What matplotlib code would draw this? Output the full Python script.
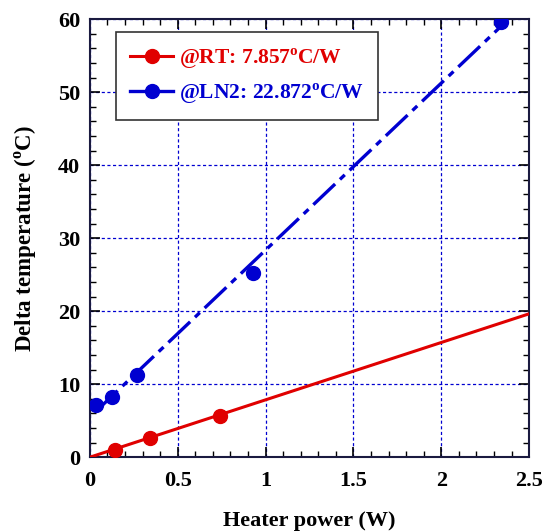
import matplotlib
matplotlib.use("Agg")
import matplotlib.pyplot as plt
from matplotlib.ticker import MultipleLocator
import numpy as np

plt.rcParams['font.family'] = 'Liberation Serif'
plt.rcParams['font.weight'] = 'bold'
plt.rcParams['axes.labelweight'] = 'bold'
plt.rcParams['mathtext.fontset'] = 'custom'
plt.rcParams['mathtext.rm'] = 'Liberation Serif:bold'
plt.rcParams['mathtext.bf'] = 'Liberation Serif:bold'

# measured points
rt_power = [0.14, 0.34, 0.74]
rt_delta = [0.96, 2.6, 5.6]
ln2_power = [0.034, 0.125, 0.27, 0.93, 2.34]
ln2_delta = [7.1, 8.2, 11.2, 25.2, 59.6]

# linear fits (slope in C/W, offset in C)
rt_slope, rt_offset = 7.857, 0.0
ln2_slope, ln2_offset = 22.872, 5.5

red = '#e00000'
blue = '#0000d0'

fig = plt.figure(figsize=(5.45, 5.31), dpi=100)
ax = fig.add_axes([0.165, 0.139, 0.806, 0.825])

xr = np.array([0.0, 2.5])
ax.plot(xr, rt_slope * xr + rt_offset, color=red, lw=2.2, zorder=3)
xb = np.array([ln2_power[0], ln2_power[-1]])
ax.plot(xb, ln2_slope * xb + ln2_offset, color=blue, lw=2.4,
        dashes=(9, 2, 2, 2), zorder=3)

ax.plot(rt_power, rt_delta, 'o', color=red, ms=10, zorder=4)
ax.plot(ln2_power, ln2_delta, 'o', color=blue, ms=10, zorder=4)

# legend handles
h1, = ax.plot([], [], '-o', color=red, lw=2.2, ms=10)
h2, = ax.plot([], [], '-o', color=blue, lw=2.4, ms=10)
leg = ax.legend([h1, h2],
                [r'@RT: 7.857$^{\mathrm{o}}$C/W', r'@LN2: 22.872$^{\mathrm{o}}$C/W'],
                loc='upper left', bbox_to_anchor=(0.06, 0.97),
                fancybox=False, framealpha=1, edgecolor='#333333',
                fontsize=15.5, handlelength=2.0, borderpad=0.65,
                labelspacing=0.5, handletextpad=0.25, borderaxespad=0)
leg.get_frame().set_linewidth(1.2)
for t, c in zip(leg.get_texts(), [red, blue]):
    t.set_color(c)

ax.set_xlim(0, 2.5)
ax.set_ylim(0, 60)
ax.xaxis.set_major_locator(MultipleLocator(0.5))
ax.xaxis.set_minor_locator(MultipleLocator(0.1))
ax.yaxis.set_major_locator(MultipleLocator(10))
ax.yaxis.set_minor_locator(MultipleLocator(2))
ax.set_xticks([0, 0.5, 1, 1.5, 2, 2.5])
ax.set_xticklabels(['0', '0.5', '1', '1.5', '2', '2.5'])
ax.tick_params(which='both', direction='in', top=True, right=True,
               labelsize=16)
ax.tick_params(axis='x', pad=10)
ax.tick_params(axis='y', pad=7)
ax.tick_params(which='major', length=7, width=1.2)
ax.tick_params(which='minor', length=4, width=1.0)
ax.grid(True, which='major', color=blue, ls=(0, (2.5, 2)), lw=0.9)
for s in ax.spines.values():
    s.set_linewidth(1.5)
    s.set_color('#1a1a40')

ax.set_xlabel('Heater power (W)', fontsize=16, labelpad=14)
ax.set_ylabel(r'Delta temperature ($^{\mathrm{o}}$C)', fontsize=16.5, labelpad=14)

fig.savefig('out.png', dpi=100)
